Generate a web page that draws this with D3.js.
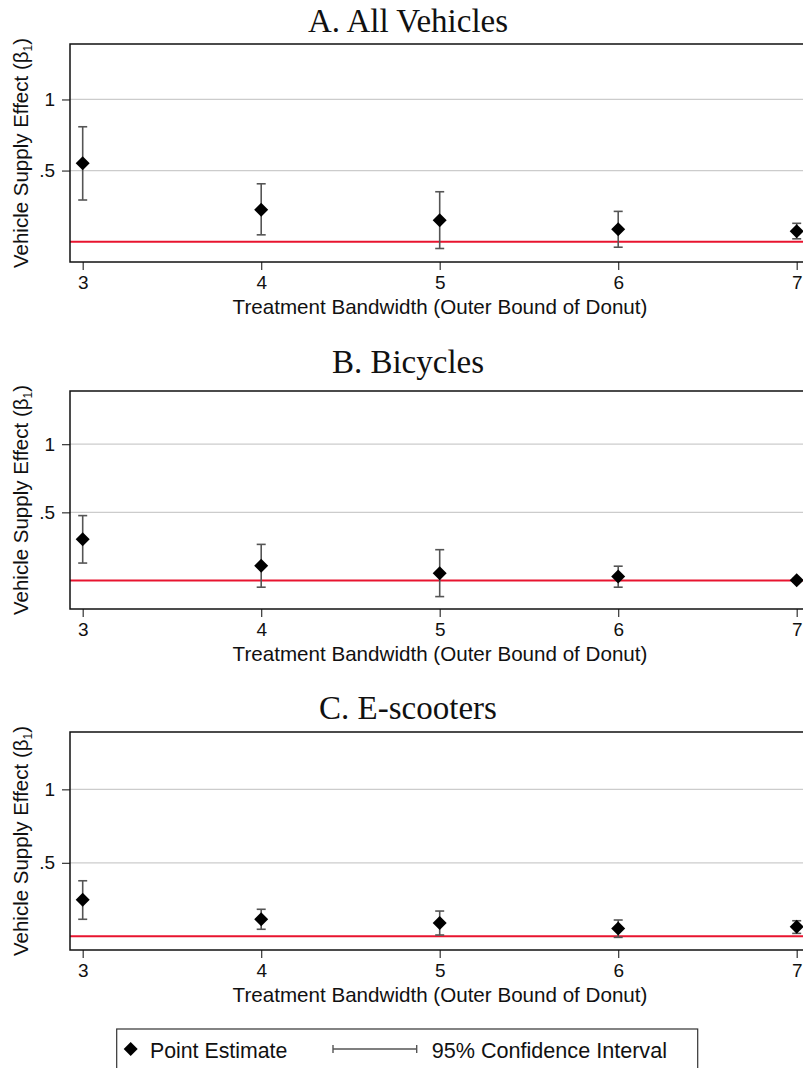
<!DOCTYPE html>
<html>
<head>
<meta charset="utf-8">
<script src="https://cdn.jsdelivr.net/npm/d3@7"></script>
<style>
  body { margin: 0; background: #fff; }
  svg { display: block; }
</style>
</head>
<body>
<svg id="chart"></svg>
<script>
// data
var bandwidths = [3, 4, 5, 6, 7];
var panelTitles = ['A. All Vehicles', 'B. Bicycles', 'C. E-scooters'];

var estAll = [0.552, 0.225, 0.150, 0.087, 0.073];
var loAll  = [0.293, 0.048, -0.048, -0.039, 0.020];
var hiAll  = [0.808, 0.407, 0.351, 0.213, 0.129];

var estBike = [0.302, 0.108, 0.054, 0.029, 0.002];
var loBike  = [0.128, -0.049, -0.118, -0.049, -0.010];
var hiBike  = [0.476, 0.265, 0.226, 0.105, 0.014];

var estScoot = [0.249, 0.116, 0.090, 0.054, 0.065];
var loScoot  = [0.116, 0.048, 0.009, -0.007, 0.020];
var hiScoot  = [0.378, 0.184, 0.172, 0.111, 0.106];

var yTickValues = [0.5, 1];
var yTickLabels = ['.5', '1'];
var xTitle = 'Treatment Bandwidth (Outer Bound of Donut)';
var legendLabels = ['Point Estimate', '95% Confidence Interval'];

var W = 803, H = 1068;
var sans = '"Liberation Sans", Arial, Helvetica, sans-serif';
var serif = '"Liberation Serif", "Times New Roman", serif';

var panels = [
    {title: panelTitles[0], est: estAll, lo: loAll, hi: hiAll, top: 44, yMin: -0.143, titleY: 31.5},
    {title: panelTitles[1], est: estBike, lo: loBike, hi: hiBike, top: 391, yMin: -0.209, titleY: 372.5},
    {title: panelTitles[2], est: estScoot, lo: loScoot, hi: hiScoot, top: 732, yMin: -0.093, titleY: 719}
];
var plotH = 218;
var frameLeft = 70, frameRight = 815;

var svg = d3.select('#chart')
    .attr('width', W)
    .attr('height', H);

var x = d3.scaleLinear().domain([3, 7]).range([82.7, 796.7]);
var diamond = d3.symbol().type(d3.symbolSquare).size(98);

panels.forEach(function(p) {
    var y = d3.scaleLinear().domain([p.yMin, 1.39]).range([p.top + plotH, p.top]);
    var g = svg.append('g');

    // title
    g.append('text')
        .attr('x', 408).attr('y', p.titleY)
        .attr('text-anchor', 'middle')
        .attr('font-family', serif)
        .attr('font-size', 33)
        .attr('fill', '#111')
        .text(p.title);

    // gridlines
    g.selectAll('.grid').data(yTickValues).enter()
        .append('line')
        .attr('x1', frameLeft).attr('x2', frameRight)
        .attr('y1', function(d) { return y(d); })
        .attr('y2', function(d) { return y(d); })
        .attr('stroke', '#cccccc')
        .attr('stroke-width', 1.2);

    // zero line
    g.append('line')
        .attr('x1', frameLeft).attr('x2', frameRight)
        .attr('y1', y(0)).attr('y2', y(0))
        .attr('stroke', '#e8142f')
        .attr('stroke-width', 2);

    // y axis
    var yAxis = d3.axisLeft(y).tickValues(yTickValues)
        .tickSize(8).tickPadding(7)
        .tickFormat(function(d, i) { return yTickLabels[i]; });
    var ya = g.append('g').attr('transform', 'translate(' + frameLeft + ',0)').call(yAxis);
    ya.select('.domain').remove();
    ya.selectAll('line').attr('stroke', '#333').attr('stroke-width', 1.2);
    ya.selectAll('text').attr('font-family', sans).attr('font-size', 19).attr('fill', '#111');

    // x axis
    var xAxis = d3.axisBottom(x).tickValues(bandwidths).tickSize(8).tickPadding(6)
        .tickFormat(d3.format('d'));
    var xa = g.append('g').attr('transform', 'translate(0,' + (p.top + plotH) + ')').call(xAxis);
    xa.select('.domain').remove();
    xa.selectAll('line').attr('stroke', '#333').attr('stroke-width', 1.2);
    xa.selectAll('text').attr('font-family', sans).attr('font-size', 19).attr('fill', '#111');

    // frame
    g.append('rect')
        .attr('x', frameLeft).attr('y', p.top)
        .attr('width', frameRight - frameLeft).attr('height', plotH)
        .attr('fill', 'none')
        .attr('stroke', '#111')
        .attr('stroke-width', 1.5);

    // axis titles
    var yt = g.append('text')
        .attr('transform', 'translate(28,' + (p.top + plotH / 2) + ') rotate(-90)')
        .attr('text-anchor', 'middle')
        .attr('font-family', sans)
        .attr('font-size', 20.5)
        .attr('fill', '#111');
    yt.append('tspan').text('Vehicle Supply Effect (\u03B2');
    yt.append('tspan').attr('font-size', 12).attr('dy', 4).text('1');
    yt.append('tspan').attr('dy', -4).text(')');

    g.append('text')
        .attr('x', 440).attr('y', p.top + plotH + 52)
        .attr('text-anchor', 'middle')
        .attr('font-family', sans)
        .attr('font-size', 20.6)
        .attr('fill', '#111')
        .text(xTitle);

    // confidence intervals
    var ci = g.selectAll('.ci').data(bandwidths).enter().append('g');
    ci.append('line')
        .attr('x1', function(d) { return x(d); }).attr('x2', function(d) { return x(d); })
        .attr('y1', function(d, i) { return y(p.lo[i]); })
        .attr('y2', function(d, i) { return y(p.hi[i]); })
        .attr('stroke', '#555').attr('stroke-width', 1.6);
    ci.append('line')
        .attr('x1', function(d) { return x(d) - 4.5; }).attr('x2', function(d) { return x(d) + 4.5; })
        .attr('y1', function(d, i) { return y(p.lo[i]); })
        .attr('y2', function(d, i) { return y(p.lo[i]); })
        .attr('stroke', '#555').attr('stroke-width', 1.6);
    ci.append('line')
        .attr('x1', function(d) { return x(d) - 4.5; }).attr('x2', function(d) { return x(d) + 4.5; })
        .attr('y1', function(d, i) { return y(p.hi[i]); })
        .attr('y2', function(d, i) { return y(p.hi[i]); })
        .attr('stroke', '#555').attr('stroke-width', 1.6);

    // point estimates
    g.selectAll('.pt').data(bandwidths).enter()
        .append('path')
        .attr('d', diamond)
        .attr('transform', function(d, i) {
            return 'translate(' + x(d) + ',' + y(p.est[i]) + ') rotate(45)';
        })
        .attr('fill', '#000');
});

// legend
var lg = svg.append('g');
lg.append('rect')
    .attr('x', 116.7).attr('y', 1029)
    .attr('width', 581).attr('height', 70)
    .attr('fill', 'none')
    .attr('stroke', '#333')
    .attr('stroke-width', 1.2);
lg.append('path')
    .attr('d', diamond)
    .attr('transform', 'translate(130.7,1049) rotate(45)')
    .attr('fill', '#000');
lg.append('text')
    .attr('x', 150).attr('y', 1058)
    .attr('font-family', sans).attr('font-size', 21.3).attr('fill', '#111')
    .text(legendLabels[0]);
lg.append('line')
    .attr('x1', 333).attr('x2', 416.7).attr('y1', 1049).attr('y2', 1049)
    .attr('stroke', '#555').attr('stroke-width', 1.4);
[333, 416.7].forEach(function(cx) {
    lg.append('line')
        .attr('x1', cx).attr('x2', cx).attr('y1', 1045).attr('y2', 1053)
        .attr('stroke', '#555').attr('stroke-width', 1.4);
});
lg.append('text')
    .attr('x', 431.7).attr('y', 1058)
    .attr('font-family', sans).attr('font-size', 21.6).attr('fill', '#111')
    .text(legendLabels[1]);
</script>
</body>
</html>
